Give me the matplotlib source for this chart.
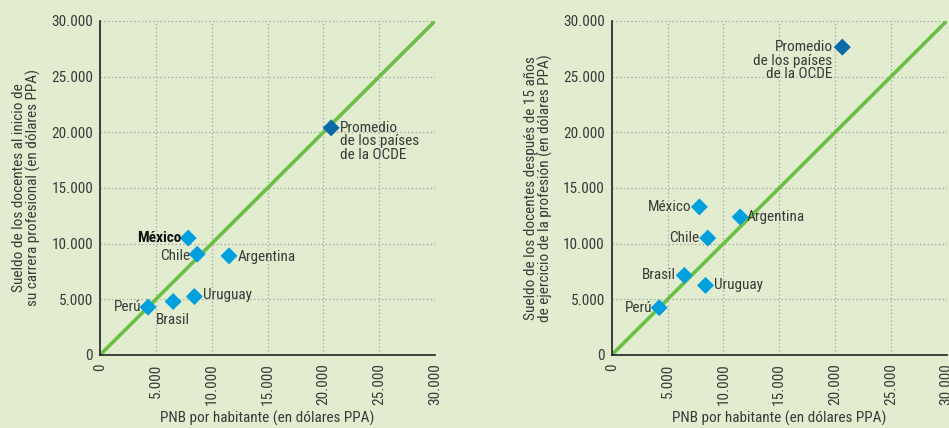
import matplotlib
matplotlib.use('Agg')
import matplotlib.pyplot as plt

#----------data-------------*
paises = ['Perú', 'Brasil', 'Uruguay', 'México', 'Chile', 'Argentina',
          'Promedio\nde los países\nde la OCDE']
pnb_izq = [4300, 6550, 8450, 7900, 8700, 11550, 20700]
sueldo_inicio = [4300, 4800, 5250, 10500, 9050, 8900, 20400]
pnb_der = [4250, 6500, 8400, 7850, 8600, 11500, 20650]
sueldo_15 = [4250, 7150, 6250, 13300, 10500, 12400, 27650]

ticks = [0, 5000, 10000, 15000, 20000, 25000, 30000]
tick_labels = ['0', '5.000', '10.000', '15.000', '20.000', '25.000', '30.000']

xlabel = 'PNB por habitante (en dólares PPA)'
ylabel_izq = 'Sueldo de los docentes al inicio de\nsu carrera profesional (en dólares PPA)'
ylabel_der = 'Sueldo de los docentes después de 15 años\nde ejercicio de la profesión (en dólares PPA)'

# label offsets (points) and alignment for each chart
pos_izq = [((-5, 0), 'right', 'center'), ((0, -8), 'center', 'top'),
           ((6, 1), 'left', 'center'), ((-5, 0), 'right', 'center'),
           ((-5, -1), 'right', 'center'), ((6, -1), 'left', 'center'),
           ((6, 5), 'left', 'top')]
pos_der = [((-5, 0), 'right', 'center'), ((-6, 0), 'right', 'center'),
           ((6, 0), 'left', 'center'), ((-6, 0), 'right', 'center'),
           ((-6, 0), 'right', 'center'), ((5, 0), 'left', 'center'),
           ((-7, 5), 'right', 'top')]

plt.rcParams['font.family'] = ['Roboto Condensed', 'Archivo Narrow',
                               'Liberation Sans Narrow', 'DejaVu Sans']
fondo = '#e2edcf'
texto = '#3a3a3a'
azul = '#00a0df'
azul_ocde = '#0a6aa8'
verde = '#6abf45'
fs = 11

fig = plt.figure(figsize=(9.49, 4.28), dpi=100, facecolor=fondo)
ax1 = fig.add_axes([0.1054, 0.1706, 0.353, 0.7804])
ax2 = fig.add_axes([0.6446, 0.1706, 0.353, 0.7804])


def dibujar(ax, xs, ys, ylabel, posiciones):
    ax.set_facecolor(fondo)
    ax.set_xlim(0, 30000)
    ax.set_ylim(0, 30000)
    ax.plot([0, 30000], [0, 30000], color=verde, lw=2.6, zorder=2,
            solid_capstyle='butt')
    colores = [azul] * (len(xs) - 1) + [azul_ocde]
    ax.scatter(xs, ys, marker='D', s=75, c=colores, edgecolors='none', zorder=3)
    for nombre, x, y, (off, ha, va) in zip(paises, xs, ys, posiciones):
        peso = 'bold' if (nombre == 'México' and ax is ax1) else 'normal'
        color = '#111111' if peso == 'bold' else texto
        ax.annotate(nombre, (x, y), xytext=off, textcoords='offset points',
                    ha=ha, va=va, fontsize=fs, color=color, fontweight=peso,
                    linespacing=0.95, zorder=4)
    ax.set_xticks(ticks)
    ax.set_xticklabels(tick_labels, rotation=90)
    ax.set_yticks(ticks)
    ax.set_yticklabels(tick_labels)
    ax.tick_params(length=0, labelsize=fs, labelcolor=texto)
    ax.tick_params(axis='x', pad=6)
    ax.tick_params(axis='y', pad=5)
    ax.grid(True, color='#aaaaaa', ls=(0, (1.2, 1.8)), lw=0.9)
    ax.set_axisbelow(True)
    for s in ['top', 'right']:
        ax.spines[s].set_visible(False)
    for s in ['left', 'bottom']:
        ax.spines[s].set_color('#222222')
        ax.spines[s].set_linewidth(1.2)
    ax.set_xlabel(xlabel, fontsize=fs, color=texto, labelpad=4)
    ax.set_ylabel(ylabel, fontsize=fs, color=texto, labelpad=7,
                  linespacing=1.0)


dibujar(ax1, pnb_izq, sueldo_inicio, ylabel_izq, pos_izq)
dibujar(ax2, pnb_der, sueldo_15, ylabel_der, pos_der)

fig.savefig('out.png', dpi=100, facecolor=fondo)
